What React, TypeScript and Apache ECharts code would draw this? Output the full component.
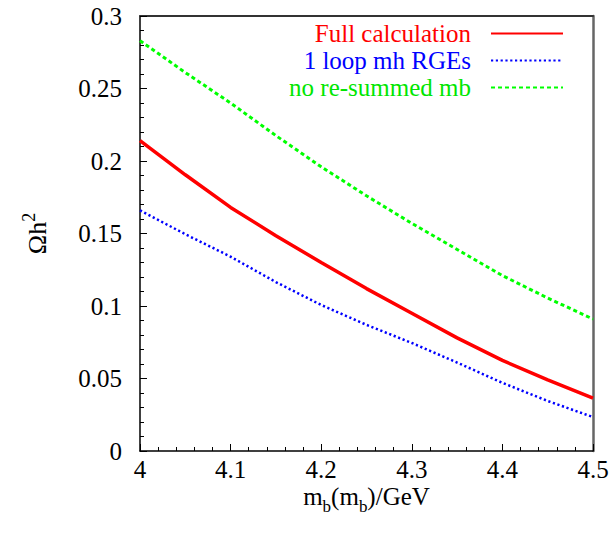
import React, { useEffect, useRef } from "react";
import * as echarts from "echarts";

const xValues = [4.0, 4.05, 4.1, 4.15, 4.2, 4.25, 4.3, 4.35, 4.4, 4.45, 4.5];
const fullCalc = [0.214, 0.1905, 0.168, 0.1485, 0.130, 0.112, 0.095, 0.078, 0.0625, 0.049, 0.0365];
const oneLoop = [0.166, 0.1495, 0.134, 0.1165, 0.1007, 0.087, 0.0745, 0.061, 0.047, 0.0345, 0.0234];
const noResummed = [0.283, 0.261, 0.240, 0.2175, 0.196, 0.176, 0.157, 0.139, 0.121, 0.1055, 0.091];
const seriesNames = ["Full calculation", "1 loop mh RGEs", "no re-summed mb"];

const FONT = "'Liberation Serif', 'DejaVu Serif', serif";

function pairs(ys: number[]) {
  return xValues.map((x, i) => [x, ys[i]]);
}

export default function App() {
  const ref = useRef<HTMLDivElement>(null);
  useEffect(() => {
    document.body.style.margin = "0";
    const chart = echarts.init(ref.current!, null, { renderer: "svg" });
    chart.setOption({
      animation: false,
      backgroundColor: "#ffffff",
      grid: { left: 140, top: 16, right: 20, bottom: 84 },
      legend: {
        orient: "vertical",
        align: "right",
        right: 44,
        top: 16,
        itemWidth: 72,
        itemHeight: 14,
        itemGap: 2,
        itemStyle: { opacity: 0 },
        textStyle: { fontFamily: FONT, fontSize: 25, padding: [0, 15, 0, 0] },
        data: [
          { name: seriesNames[0], textStyle: { color: "#ff0000" } },
          { name: seriesNames[1], textStyle: { color: "#0000ff" } },
          { name: seriesNames[2], textStyle: { color: "#00e600" } },
        ],
      },
      xAxis: [
        {
          type: "value",
          min: 4,
          max: 4.5,
          interval: 0.1,
          position: "bottom",
          axisLine: { show: true, lineStyle: { color: "#000", width: 1.5 } },
          axisTick: { show: true, inside: true, length: 7, lineStyle: { color: "#000" } },
          minorTick: { show: true, splitNumber: 5, length: 4, lineStyle: { color: "#000" } },
          splitLine: { show: false },
          axisLabel: {
            margin: 7,
            color: "#000",
            fontFamily: FONT,
            fontSize: 25,
            lineHeight: 22,
            formatter: (v: number) => String(Math.round(v * 10) / 10),
          },
          name: "{a|m}{s|b}{a|(m}{s|b}{a|)/GeV}",
          nameLocation: "middle",
          nameGap: 38,
          nameMoveOverlap: false,
          nameTextStyle: {
            color: "#000",
            fontFamily: FONT,
            fontSize: 25,
            rich: {
              a: { fontFamily: FONT, fontSize: 25, color: "#000", lineHeight: 20, verticalAlign: "bottom" },
              s: { fontFamily: FONT, fontSize: 17, color: "#000", lineHeight: 20, verticalAlign: "bottom", padding: [0, 0, -6, 0] },
            },
          },
        },
        {
          type: "value",
          min: 4,
          max: 4.5,
          position: "top",
          axisLine: { show: true, onZero: false, lineStyle: { color: "#333", width: 2 } },
          axisTick: { show: false },
          axisLabel: { show: false },
          splitLine: { show: false },
        },
      ],
      yAxis: [
        {
          type: "value",
          min: 0,
          max: 0.3,
          interval: 0.05,
          position: "left",
          axisLine: { show: true, lineStyle: { color: "#000", width: 1.5 } },
          axisTick: { show: true, inside: true, length: 7, lineStyle: { color: "#000" } },
          minorTick: { show: true, splitNumber: 5, length: 4, lineStyle: { color: "#000" } },
          splitLine: { show: false },
          axisLabel: {
            margin: 18,
            color: "#000",
            fontFamily: FONT,
            fontSize: 25,
            formatter: (v: number) => String(Math.round(v * 100) / 100),
          },
          name: "{a|Ωh}{p|2}",
          nameLocation: "middle",
          nameRotate: 90,
          nameGap: 90,
          nameMoveOverlap: false,
          nameTextStyle: {
            color: "#000",
            fontFamily: FONT,
            fontSize: 25,
            rich: {
              a: { fontFamily: FONT, fontSize: 26, color: "#000", lineHeight: 30, verticalAlign: "bottom" },
              p: { fontFamily: FONT, fontSize: 18, color: "#000", lineHeight: 30, verticalAlign: "top", padding: [0, 0, 8, 0] },
            },
          },
        },
        {
          type: "value",
          min: 0,
          max: 0.3,
          position: "right",
          axisLine: { show: true, onZero: false, lineStyle: { color: "#666", width: 2.5 } },
          axisTick: { show: false },
          axisLabel: { show: false },
          splitLine: { show: false },
        },
      ],
      series: [
        {
          name: seriesNames[0],
          type: "line",
          data: pairs(fullCalc),
          showSymbol: false,
          symbol: "none",
          color: "#ff0000",
          lineStyle: { color: "#ff0000", width: 3.5, type: "solid" },
          z: 3,
        },
        {
          name: seriesNames[1],
          type: "line",
          data: pairs(oneLoop),
          showSymbol: false,
          symbol: "none",
          color: "#0000ff",
          lineStyle: { color: "#0000ff", width: 2.5, type: [2.2, 2.6] },
          z: 2,
        },
        {
          name: seriesNames[2],
          type: "line",
          data: pairs(noResummed),
          showSymbol: false,
          symbol: "none",
          color: "#00ff00",
          lineStyle: { color: "#00ff00", width: 3, type: [4, 3] },
          z: 2,
        },
      ],
    });
    return () => chart.dispose();
  }, []);
  return (
    <div
      ref={ref}
      style={{ position: "fixed", left: 0, top: 0, width: 613, height: 535 }}
    />
  );
}
